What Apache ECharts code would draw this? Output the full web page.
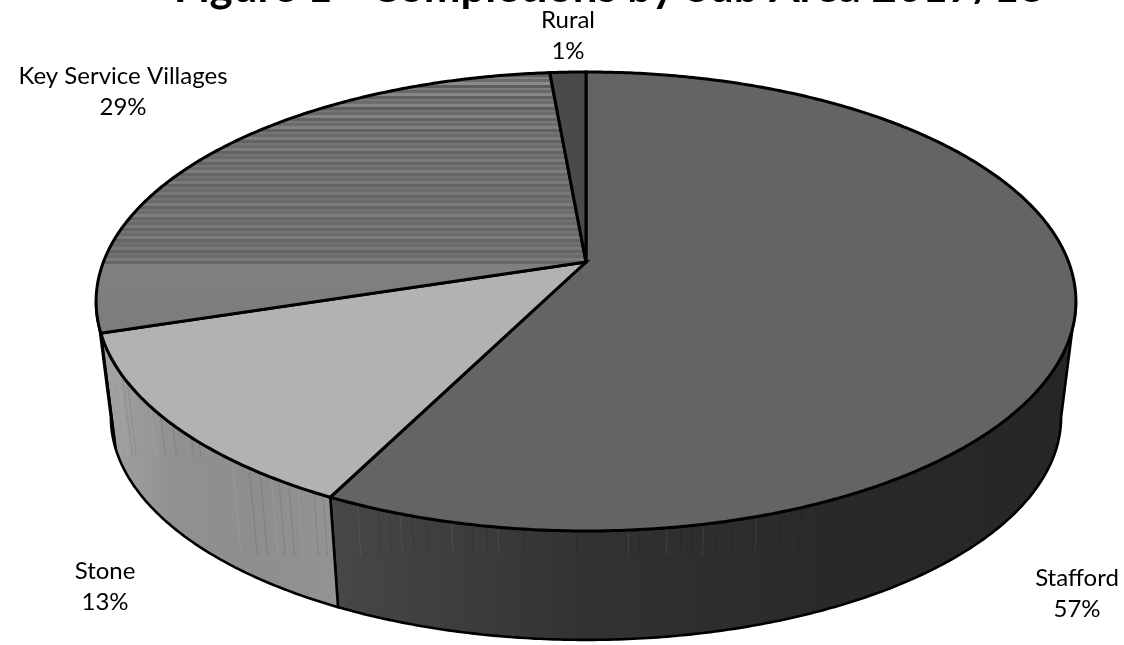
<!DOCTYPE html>
<html>
<head>
<meta charset="utf-8">
<style>html,body{margin:0;padding:0;background:#fff}#c{width:1124px;height:645px}</style>
<script src="https://cdn.jsdelivr.net/npm/echarts@6/dist/echarts.min.js"></script>
</head>
<body>
<div id="c"></div>
<script>
const titleText = 'Figure 1 - Completions by Sub Area 2017/18';
const categories = ['Stafford', 'Stone', 'Key Service Villages', 'Rural'];
const shares = [57.4, 12.7, 28.5, 1.4];

// Styling and layout (no data below)
const topFill = ['#646464', '#b2b2b2', null, '#4a4a4a'];
const sideStops = [
  ['#484848', '#333333', '#292929', '#262626'],
  ['#a3a3a3', '#909090', '#8e8e8e', '#939393'],
  ['#7a7a7a', '#7a7a7a'],
  ['#3a3a3a', '#3a3a3a']
];
const stripeGreys = ['#707070','#5f5f5f','#808080','#6a6a6a','#8a8a8a','#5c5c5c','#7c7c7c','#686868','#868686','#606060',
  '#787878','#6c6c6c','#848484','#5e5e5e','#747474','#696969','#828282','#626262','#7a7a7a','#6b6b6b',
  '#808080','#606060','#767676','#6a6a6a','#7e7e7e','#646464','#747474','#6c6c6c','#7c7c7c','#626262',
  '#727272','#6a6a6a','#7a7a7a','#646464','#767676','#6c6c6c','#7c7c7c','#666666','#727272','#696969',
  '#7a7a7a','#636363','#747474','#6b6b6b','#787878','#656565','#727272','#6a6a6a','#7c7c7c','#646464',
  '#747474','#6c6c6c','#7e7e7e','#666666','#727272','#696969','#7a7a7a','#636363','#767676','#6a6a6a',
  '#7c7c7c','#656565','#717171','#6b6b6b','#787878','#646464','#737373','#6a6a6a','#7a7a7a','#666666'];
const hairlines = [
  {endY: 555, deg: [203.5,201.2,200,198.8,197.5,196,193.4,191.3,189.8,188.7,186.1,180.9,175.8,174.7,173.3,172,170.6,169.5,168.3,166.9,165.3,162.8,160.2,158]},
  {endY: 457, deg: [244,242,240.5,234.3,232,229.5,227,226,224.7]},
  {endY: 556, deg: [219.5,217,215.5,214,213,211.7,210.6,208.6,207.5]}
];
const hairOwner = [0, 1, 1];
const labelAt = [[1077, 594], [105, 587], [123, 92], [568, 36]];

const P = {ax: 586, k: 0.172, top: {ay: 262, A: 482.6, B: 222.7}, bot: {ay: 379, A: 468, B: 216}};
const rad = d => d * Math.PI / 180;
function pt(face, deg) {
  const s = Math.sin(rad(deg)), c = Math.cos(rad(deg)), w = 1 + P.k * c;
  return [P.ax + face.A * s / w, face.ay - face.B * c / w];
}
function arc(face, from, to) {
  const out = [], n = Math.max(2, Math.ceil(Math.abs(to - from) * 2));
  for (let i = 0; i <= n; i++) out.push(pt(face, from + (to - from) * i / n));
  return out;
}
const total = shares.reduce((a, b) => a + b, 0);
function sliceRange(i) {
  let before = 0;
  for (let j = 0; j < i; j++) before += shares[j];
  return [before / total * 360, (before + shares[i]) / total * 360];
}
const tangent = 180 / Math.PI * Math.acos(-P.k);

function stops(list) {
  return list.map((color, i) => ({offset: i / (list.length - 1), color}));
}
function ksvFill() {
  const arr = [], n = stripeGreys.length, bandEnd = 0.73;
  stripeGreys.forEach((g, i) => {
    arr.push({offset: i / n * bandEnd, color: g});
    arr.push({offset: (i + 1) / n * bandEnd, color: g});
  });
  arr.push({offset: bandEnd, color: '#808080'}, {offset: 1, color: '#7c7c7c'});
  return new echarts.graphic.LinearGradient(0, 0, 0, 1, arr);
}

function renderSide(params, api) {
  const i = params.dataIndex, r = sliceRange(i);
  const from = Math.max(r[0], tangent), to = Math.min(r[1], 360 - tangent);
  if (to <= from) return {type: 'group', children: []};
  const poly = arc(P.top, from, to).concat(arc(P.bot, to, from));
  const kids = [{
    type: 'polygon', shape: {points: poly},
    style: {fill: new echarts.graphic.LinearGradient(0, 0, 1, 0, stops(sideStops[i])),
            stroke: '#000', lineWidth: 2.6, lineJoin: 'round'}
  }];
  hairlines.forEach((g, gi) => {
    if (hairOwner[gi] !== i) return;
    g.deg.forEach((d, h) => {
      const a = pt(P.top, d), b = pt(P.bot, d);
      const t = (g.endY - a[1]) / (b[1] - a[1]);
      kids.push({type: 'line',
        shape: {x1: a[0], y1: a[1], x2: a[0] + (b[0] - a[0]) * t, y2: g.endY},
        style: {stroke: h % 3 === 0 ? 'rgba(255,255,255,0.10)' : 'rgba(0,0,0,0.14)', lineWidth: 1, lineDash: [3, 1]}});
    });
  });
  return {type: 'group', children: kids};
}
function renderTop(params, api) {
  const i = params.dataIndex, r = sliceRange(i);
  const poly = [[P.ax, P.top.ay]].concat(arc(P.top, r[0], r[1]));
  return {type: 'polygon', shape: {points: poly},
    style: {fill: topFill[i] || ksvFill(), stroke: '#000', lineWidth: 3, lineJoin: 'miter'}};
}
function renderLabel(params, api) {
  const i = params.dataIndex;
  return {type: 'text', x: labelAt[i][0], y: labelAt[i][1],
    style: {text: categories[i] + '\n' + Math.round(api.value(0)) + '%',
      font: '400 24px Lato', fill: '#000', align: 'center', verticalAlign: 'middle', lineHeight: 31}};
}

const chart = echarts.init(document.getElementById('c'), null, {renderer: 'canvas'});
chart.setOption({
  animation: false,
  backgroundColor: '#fff',
  title: {text: titleText, left: 604, top: -39, textAlign: 'center',
    textStyle: {fontFamily: 'Lato', fontWeight: 'bold', fontSize: 43.8, color: '#000'}},
  series: [
    {type: 'custom', coordinateSystem: 'none', renderItem: renderSide, data: shares, silent: true, z: 1},
    {type: 'custom', coordinateSystem: 'none', renderItem: renderTop, data: shares, silent: true, z: 2},
    {type: 'custom', coordinateSystem: 'none', renderItem: renderLabel, data: shares, silent: true, z: 3}
  ]
});
</script>
</body>
</html>
